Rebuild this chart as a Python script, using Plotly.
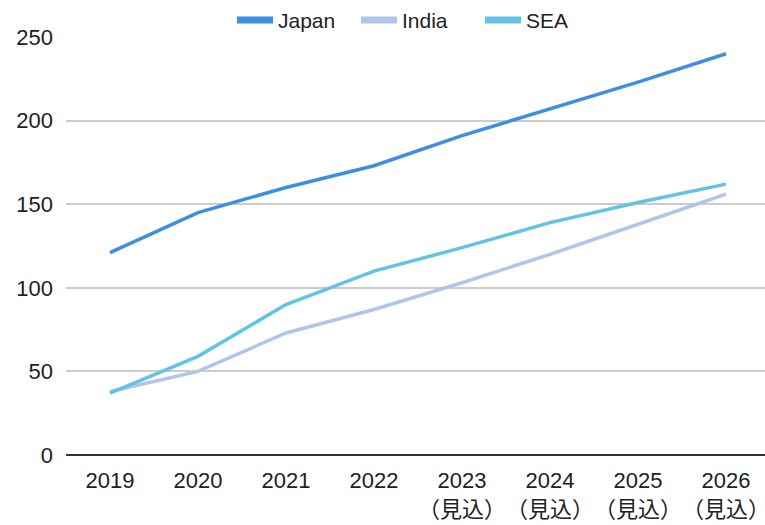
import plotly.graph_objects as go

years = ["2019", "2020", "2021", "2022", "2023", "2024", "2025", "2026"]
tick_labels = ["2019", "2020", "2021", "2022",
               "2023<br>（見込）", "2024<br>（見込）", "2025<br>（見込）", "2026<br>（見込）"]
japan = [121, 145, 160, 173, 191, 207, 223, 240]
india = [38, 50, 73, 87, 103, 120, 138, 156]
sea = [37, 59, 90, 110, 124, 139, 151, 162]

FONT = "Arial, Liberation Sans, Noto Sans CJK JP, sans-serif"

series = [("Japan", japan, "#3d8fe3"),
          ("India", india, "#b0c6e8"),
          ("SEA", sea, "#62c3e4")]

fig = go.Figure()
for name, vals, color in series:
    fig.add_trace(go.Scatter(x=years, y=vals, name=name, mode="lines",
                             line=dict(color=color, width=3.5), showlegend=False))
for name, vals, color in series:
    fig.add_trace(go.Scatter(x=[None], y=[None], name=name, mode="lines",
                             line=dict(color=color, width=7), showlegend=True))

fig.update_layout(
    width=765, height=525,
    margin=dict(l=66, r=0, t=37, b=70, autoexpand=False),
    paper_bgcolor="white", plot_bgcolor="white",
    font=dict(family=FONT, size=22, color="#222222"),
    showlegend=True,
    legend=dict(orientation="h", x=0.2375, xanchor="left", y=1.04, yanchor="middle",
                font=dict(size=21), itemwidth=36, traceorder="normal",
                entrywidth=73, entrywidthmode="pixels"),
)
fig.update_xaxes(type="category", tickvals=years, ticktext=tick_labels,
                 range=[-0.5, 7.443], showgrid=False, showline=False, ticks="",
                 tickangle=0, ticklabelstandoff=10, tickfont=dict(size=22))
fig.update_yaxes(range=[0, 250], dtick=50, showgrid=True, gridcolor="#cccccc",
                 gridwidth=1.5, zeroline=True, zerolinecolor="#333333", zerolinewidth=1.5,
                 showline=False, ticks="", ticklabelstandoff=12, tickfont=dict(size=22))

fig.write_html("out.html")
